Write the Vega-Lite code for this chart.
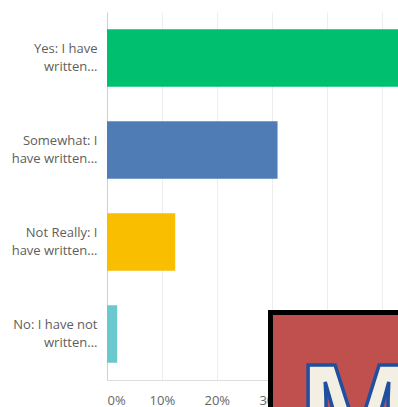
{
  "$schema": "https://vega.github.io/schema/vega-lite/v6.json",
  "width": 291,
  "height": 368,
  "autosize": "none",
  "padding": {"left": 107, "top": 12, "right": 0, "bottom": 27},
  "background": "white",
  "config": {"view": {"stroke": null}, "font": "Open Sans"},
  "layer": [
    {
      "data": {
        "values": [
          {"answer": "Yes: I have\nwritten...", "share": 0.5466},
          {"answer": "Somewhat: I\nhave written...", "share": 0.3106},
          {"answer": "Not Really: I\nhave written...", "share": 0.1242},
          {"answer": "No: I have not\nwritten...", "share": 0.0186}
        ]
      },
      "mark": {"type": "bar", "clip": true},
      "encoding": {
        "y": {
          "field": "answer",
          "type": "nominal",
          "sort": null,
          "scale": {"paddingInner": 0.375, "paddingOuter": 0.1875},
          "axis": {
            "title": null,
            "labelExpr": "split(datum.value, '\\n')",
            "labelFontSize": 13,
            "labelColor": "#5e5e5e",
            "labelPadding": 10,
            "labelLineHeight": 18,
            "labelOffset": -9,
            "ticks": false,
            "domain": true,
            "domainColor": "#cfcfcf",
            "grid": false
          }
        },
        "x": {
          "field": "share",
          "type": "quantitative",
          "scale": {"domain": [0, 0.53], "nice": false},
          "axis": {
            "title": null,
            "format": ".0%",
            "values": [0, 0.1, 0.2, 0.3, 0.4, 0.5],
            "labelExpr": "datum.value > 0.35 ? '' : datum.label",
            "grid": true,
            "gridColor": "#eeeeee",
            "ticks": false,
            "domain": true,
            "domainColor": "#dddddd",
            "labelFlush": true,
            "labelFontSize": 13,
            "labelColor": "#666666",
            "labelPadding": 14
          }
        },
        "color": {
          "field": "answer",
          "type": "nominal",
          "sort": null,
          "scale": {"range": ["#00bf6f", "#507cb6", "#f9be00", "#6bc8cd"]},
          "legend": null
        }
      }
    },
    {
      "data": {"values": [{}]},
      "mark": {"type": "rect", "fill": "#c0504e", "stroke": "#000000", "strokeWidth": 5},
      "encoding": {
        "x": {"datum": 0.2978, "type": "quantitative", "scale": {"domain": [0, 0.53], "nice": false}},
        "x2": {"datum": 0.6},
        "y": {"datum": 0.1834, "type": "quantitative", "scale": {"domain": [0, 1], "nice": false}, "axis": null},
        "y2": {"datum": -0.2}
      }
    },
    {
      "data": {"values": [{"letter": "M"}]},
      "mark": {
        "type": "text",
        "align": "left",
        "baseline": "alphabetic",
        "font": "Liberation Sans",
        "fontWeight": "bold",
        "fontSize": 140,
        "fill": "#f3efe3",
        "stroke": "#1f4fa0",
        "strokeWidth": 3.5
      },
      "encoding": {
        "text": {"field": "letter"},
        "x": {"datum": 0.3492, "type": "quantitative", "scale": {"domain": [0, 0.53], "nice": false}},
        "y": {"datum": -0.2194, "type": "quantitative", "scale": {"domain": [0, 1], "nice": false}, "axis": null}
      }
    }
  ],
  "resolve": {"scale": {"y": "independent"}}
}
